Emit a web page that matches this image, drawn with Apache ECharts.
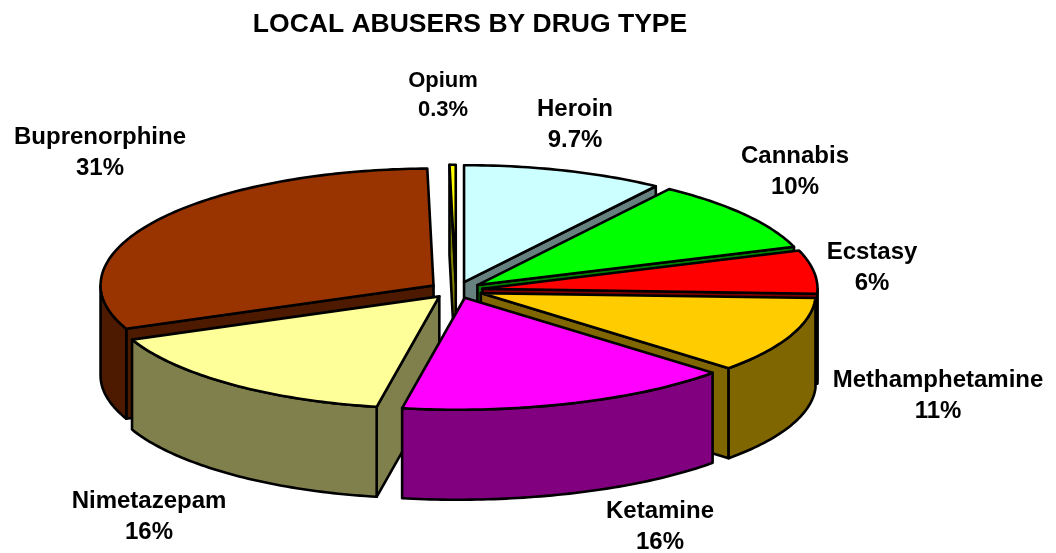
<!DOCTYPE html>
<html><head><meta charset="utf-8">
<style>html,body{margin:0;padding:0;background:#fff}#c{width:1056px;height:553px}</style>
<script src="https://cdn.jsdelivr.net/npm/echarts@6/dist/echarts.min.js"></script>
</head><body><div id="c"></div>
<script>
const chartTitle = 'LOCAL ABUSERS BY DRUG TYPE';
const categories = ['Heroin','Cannabis','Ecstasy','Methamphetamine','Ketamine','Nimetazepam','Buprenorphine','Opium'];
const shareValues = [9.7,10,6,11,16,16,31,0.3];
const topColors = ['#CCFFFF','#00FF00','#FF0000','#FFCC00','#FF00FF','#FFFF99','#993300','#FFFF00'];
const sideColors = ['#668080','#008000','#800000','#806600','#800080','#80804D','#4D1A00','#808000'];
const labelCentres = [[575,125],[795,172],[872,268],[938,396],[660,527],[149,517],[100,153],[443,95]];
const labelSizes = [24,24,24,24,24,24,24,22];

// 3D pie projection
const CX = 456, CY = 290, RX = 335, RX_LEFT = 333, RY_BACK = 117, RY_FRONT = 112, SKEW = 7, DEPTH = 90, EXPLODE = 0.08;
const total = shareValues.reduce((a,b)=>a+b,0);
const rad = d => d*Math.PI/180;

let acc = 0;
const slices = categories.map((name,i)=>{
  const a0 = acc/total*360; acc += shareValues[i]; const a1 = acc/total*360;
  return {name, value: shareValues[i], idx:i, a0, a1, mid:(a0+a1)/2};
});
// painter's order: back of the disc first
const drawOrder = slices.slice().sort((p,q)=>Math.cos(rad(q.mid))-Math.cos(rad(p.mid)));

function renderSlice(params){
  const s = drawOrder[params.dataIndex];
  const ax = CX + EXPLODE*RX*Math.sin(rad(s.mid));
  const ay = CY - 0.07*RY_BACK*Math.cos(rad(s.mid));
  const rim = (a,dy)=>{
    const c = Math.cos(rad(a)), sn = Math.sin(rad(a));
    const ry = c>0 ? RY_BACK : RY_FRONT;
    const rx = sn<0 ? RX_LEFT : RX;
    const sk = c<0 ? SKEW*Math.pow(-c,6) : 0;   // slight perspective lean at the front
    return [ax+rx*sn-sk, ay-ry*c+(dy||0)];
  };
  const arc = (from,to,dy)=>{
    const pts=[]; const n=Math.max(2,Math.ceil(to-from));
    for(let k=0;k<=n;k++) pts.push(rim(from+(to-from)*k/n,dy));
    return pts;
  };
  const lineStyle = c=>({fill:c, stroke:'#000', lineWidth:2.6, lineJoin:'round'});
  const poly = (pts,c)=>({type:'polygon', shape:{points:pts}, style:lineStyle(c), silent:true});
  const kids = [];
  const side = sideColors[s.idx], top = topColors[s.idx];
  const cut = a=>poly([[ax,ay],rim(a),rim(a,DEPTH),[ax,ay+DEPTH]],side);
  if(Math.sin(rad(s.a1))>0) kids.push(cut(s.a1));
  if(Math.sin(rad(s.a0))<0) kids.push(cut(s.a0));
  const w0=Math.max(s.a0,90), w1=Math.min(s.a1,270);
  if(w1>w0) kids.push(poly(arc(w0,w1,0).concat(arc(w0,w1,DEPTH).reverse()),side));
  kids.push(poly([[ax,ay]].concat(arc(s.a0,s.a1,0)),top));
  const lc = labelCentres[s.idx], fs = labelSizes[s.idx];
  kids.push({type:'text', silent:true, z2:100, x:lc[0], y:lc[1],
    style:{text:s.name+'\n'+s.value+'%', font:'bold '+fs+'px "Liberation Sans", Arial, sans-serif', fill:'#000', align:'center', verticalAlign:'middle', lineHeight:fs===24?31:29}});
  return {type:'group', children:kids};
}

const chart = echarts.init(document.getElementById('c'),null,{renderer:'canvas'});
chart.setOption({
  animation:false,
  backgroundColor:'#fff',
  title:{text:chartTitle,left:465,top:6,textAlign:'center',
    textStyle:{fontFamily:'"Liberation Sans", Arial, sans-serif',fontWeight:'bold',fontSize:26.5,color:'#000'}},
  series:[{type:'custom',coordinateSystem:'none',renderItem:renderSlice,
    data:drawOrder.map(s=>({name:s.name,value:s.value}))}]
});
</script></body></html>
